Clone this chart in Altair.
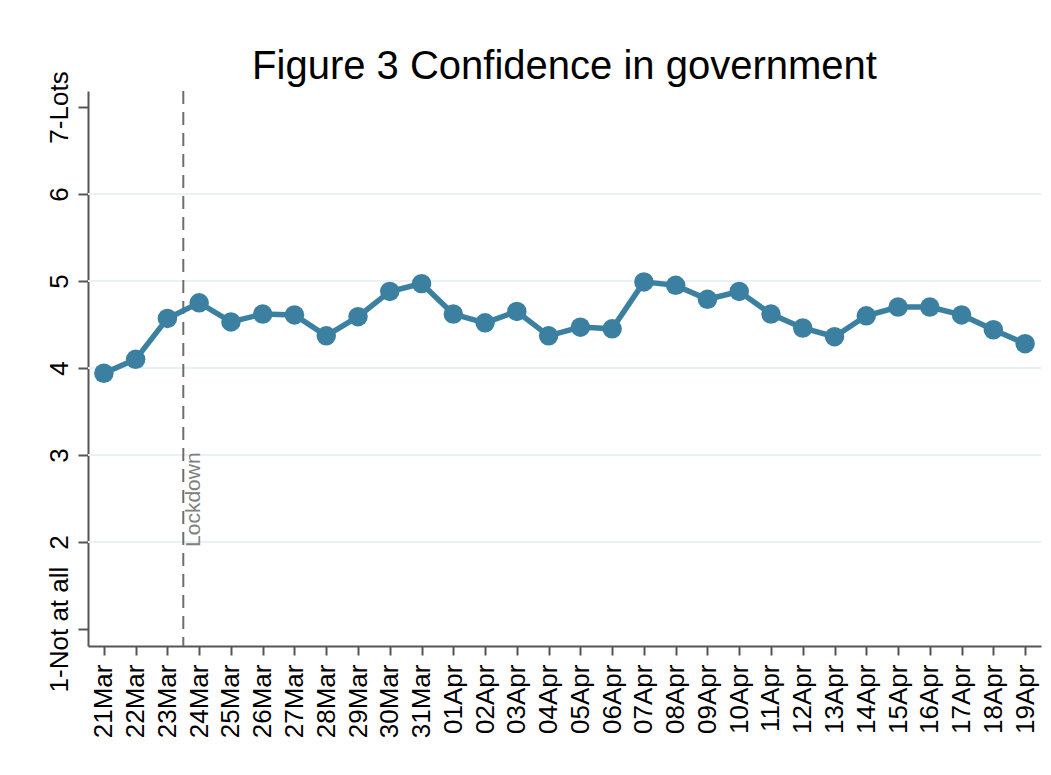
import altair as alt
import pandas as pd

# ---- data ----
dates = ["21Mar", "22Mar", "23Mar", "24Mar", "25Mar", "26Mar", "27Mar", "28Mar",
         "29Mar", "30Mar", "31Mar", "01Apr", "02Apr", "03Apr", "04Apr", "05Apr",
         "06Apr", "07Apr", "08Apr", "09Apr", "10Apr", "11Apr", "12Apr", "13Apr",
         "14Apr", "15Apr", "16Apr", "17Apr", "18Apr", "19Apr"]
confidence = [3.94, 4.10, 4.57, 4.75, 4.53, 4.62, 4.61, 4.37, 4.59, 4.88,
              4.97, 4.62, 4.52, 4.65, 4.37, 4.47, 4.45, 4.99, 4.95, 4.79,
              4.88, 4.62, 4.46, 4.36, 4.60, 4.70, 4.70, 4.61, 4.44, 4.28]
y_tick_values = [1, 2, 3, 4, 5, 6, 7]
y_tick_labels = ["1-Not at all", "2", "3", "4", "5", "6", "7-Lots"]
grid_values = [2, 3, 4, 5, 6]
lockdown_pos = [2.5]          # between 23Mar and 24Mar
lockdown_label = ["Lockdown"]
lockdown_label_y = [3.03]

FONT = "Liberation Sans"
LINE_COLOR = "#3b80a1"

df = pd.DataFrame({"idx": list(range(len(dates))), "date": dates, "value": confidence})
grid_df = pd.DataFrame({"g": grid_values})
lock_df = pd.DataFrame({"x": lockdown_pos, "label": lockdown_label, "y": lockdown_label_y})

x_label_expr = "[" + ",".join("'%s'" % d for d in dates) + "][datum.value]"
y_label_expr = "[" + ",".join("'%s'" % s for s in y_tick_labels) + "][datum.value - 1]"

x_scale = alt.Scale(domain=[-0.5, len(dates) - 0.5], nice=False, zero=False)
y_scale = alt.Scale(domain=[0.805, 7.184], nice=False, zero=False)

x_axis = alt.Axis(
    title=None, values=list(range(len(dates))), labelExpr=x_label_expr,
    labelAngle=270, labelAlign="right", labelBaseline="middle",
    labelFont=FONT, labelFontSize=26, labelColor="black", labelPadding=9,
    labelLimit=300,
    tickSize=9, tickWidth=2, tickColor="#555555",
    domainColor="#555555", domainWidth=2, grid=False, labelOverlap=False,
    labelFlush=False,
)
y_axis = alt.Axis(
    title=None, values=y_tick_values, labelExpr=y_label_expr,
    labelAngle=270, labelAlign="center", labelBaseline="alphabetic",
    labelFont=FONT, labelFontSize=26, labelColor="black", labelPadding=11,
    labelLimit=300,
    tickSize=10, tickWidth=2, tickColor="#555555",
    domainColor="#555555", domainWidth=2, grid=False, labelOverlap=False,
    labelFlush=False,
)

base = alt.Chart(df).encode(
    x=alt.X("idx:Q", scale=x_scale, axis=x_axis),
    y=alt.Y("value:Q", scale=y_scale, axis=y_axis),
)
line = base.mark_line(color=LINE_COLOR, strokeWidth=5.5)
points = base.mark_point(filled=True, color=LINE_COLOR, size=380, opacity=1)

grid = alt.Chart(grid_df).mark_rule(color="#e8f1f3", strokeWidth=2).encode(
    y=alt.Y("g:Q", scale=y_scale, axis=y_axis)
)

lock_rule = alt.Chart(lock_df).mark_rule(
    color="#6e6e6e", strokeWidth=2, strokeDash=[13, 8]
).encode(x=alt.X("x:Q", scale=x_scale, axis=x_axis))

lock_text = alt.Chart(lock_df).mark_text(
    angle=270, align="right", baseline="top", font=FONT, fontSize=21,
    color="#808080", dy=0
).encode(
    x=alt.X("x:Q", scale=x_scale, axis=x_axis),
    y=alt.Y("y:Q", scale=y_scale, axis=y_axis),
    text="label:N",
)

chart = alt.layer(grid, lock_rule, lock_text, line, points).properties(
    width=953, height=555,
    title=alt.TitleParams(
        "Figure 3 Confidence in government", font=FONT, fontSize=40,
        fontWeight="normal", color="black", anchor="middle", offset=-16,
    ),
    padding={"left": 80, "top": 83, "right": 2, "bottom": 120},
    autosize=alt.AutoSizeParams(type="none"),
    background="white",
).configure_view(stroke="transparent")

chart.save("out.html", embed_options={"renderer": "svg", "actions": False})
